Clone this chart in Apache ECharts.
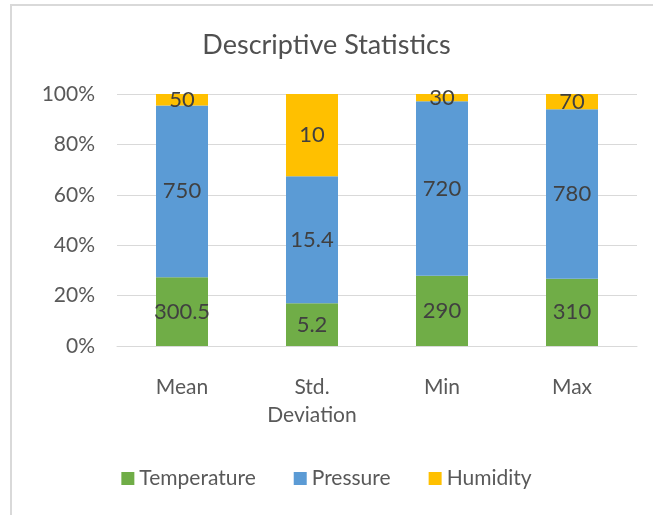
<!DOCTYPE html>
<html>
<head>
<meta charset="utf-8">
<script src="https://cdn.jsdelivr.net/npm/echarts@6/dist/echarts.min.js"></script>
<style>
  html, body { margin: 0; padding: 0; background: #fff; }
  #chart { width: 653px; height: 515px; }
</style>
</head>
<body>
<div id="chart"></div>
<script>
var categories = ["Mean", "Std.\nDeviation", "Min", "Max"];
var temperature = [300.5, 5.2, 290, 310];
var pressure = [750, 15.4, 720, 780];
var humidity = [50, 10, 30, 70];
var yTicks = [0, 20, 40, 60, 80, 100];

var totals = categories.map(function (c, i) {
  return temperature[i] + pressure[i] + humidity[i];
});

// 100% stacked: bar height is share of the column, label is the raw value
function share(arr) {
  return arr.map(function (v, i) {
    return { value: v / totals[i] * 100, raw: v };
  });
}

var myChart = echarts.init(document.getElementById("chart"));
var font = "Lato, 'Open Sans', sans-serif";

function makeSeries(name, arr, color) {
  return {
    name: name,
    type: "bar",
    stack: "all",
    barWidth: "40%",
    data: share(arr),
    itemStyle: { color: color },
    label: {
      show: true,
      position: "inside",
      color: "#404040",
      fontSize: 22,
      fontFamily: font,
      formatter: function (p) { return p.data.raw; }
    }
  };
}

option = {
  animation: false,
  backgroundColor: "#fff",
  title: {
    text: "Descriptive Statistics",
    left: "center",
    top: 27,
    textStyle: {
      color: "#505050",
      fontSize: 27,
      fontWeight: "normal",
      fontFamily: font
    }
  },
  graphic: [
    {
      type: "rect",
      shape: { x: 11, y: 5, width: 700, height: 600 },
      style: { fill: "none", stroke: "#d9d9d9", lineWidth: 2 }
    }
  ],
  legend: {
    bottom: 21,
    left: "center",
    itemWidth: 13,
    itemHeight: 13,
    itemGap: 38,
    icon: "rect",
    textStyle: { color: "#595959", fontSize: 21, fontFamily: font }
  },
  grid: {
    left: 117,
    right: 16,
    top: 94,
    bottom: 169
  },
  xAxis: {
    type: "category",
    data: categories,
    axisLine: { lineStyle: { color: "#d9d9d9" } },
    axisTick: { show: false },
    axisLabel: {
      color: "#595959",
      fontSize: 21,
      fontFamily: font,
      margin: 27,
      lineHeight: 28
    }
  },
  yAxis: {
    type: "value",
    min: 0,
    max: 100,
    interval: 20,
    axisLine: { show: false },
    axisTick: { show: false },
    splitLine: { lineStyle: { color: "#d9d9d9" } },
    axisLabel: {
      color: "#595959",
      fontSize: 21,
      fontFamily: font,
      margin: 22,
      formatter: function (v) {
        return yTicks.indexOf(v) >= 0 ? v + "%" : "";
      }
    }
  },
  series: [
    makeSeries("Temperature", temperature, "#70AD47"),
    makeSeries("Pressure", pressure, "#5B9BD5"),
    makeSeries("Humidity", humidity, "#FFC000")
  ]
};

myChart.setOption(option);
</script>
</body>
</html>
